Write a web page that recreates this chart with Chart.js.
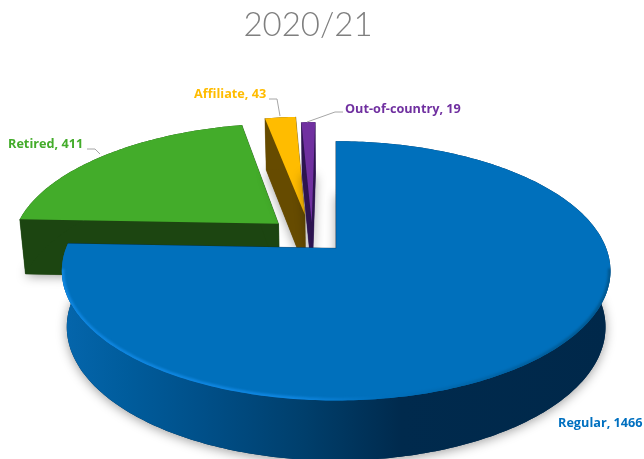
<!DOCTYPE html>
<html lang="en">
<head>
    <meta charset="UTF-8">
    <title>2020/21</title>
    <script src="https://cdn.jsdelivr.net/npm/chart.js"></script>
    <style>
        html, body { margin: 0; padding: 0; background: #fff; }
        #wrap { width: 644px; height: 459px; overflow: hidden; }
    </style>
</head>
<body>
    <div id="wrap"><canvas id="pie" width="644" height="459"></canvas></div>

    <script>
        // Data
        const categories = ['Regular', 'Retired', 'Affiliate', 'Out-of-country'];
        const memberCounts = [1466, 411, 43, 19];
        const chartTitle = '2020/21';

        // Slice styling
        const topColors = ['#0070BC', '#43AC2A', '#FFBC00', '#7030A0'];
        const wallColors = ['#00284A', '#1C4511', '#664B00', '#2D1450'];
        const labelColors = ['#0070C0', '#43AC2A', '#FFBC00', '#7030A0'];
        const sliceOffsets = [86, 86, 102, 63];
        const sideNudge = [0, -0.006, 0.004, 0.012];
        const drawOrder = [1, 2, 3, 0];

        // Label text start + baseline, and the leader line going to the slice
        const labelSpots = [
            { x: 558, y: 427, leader: null },
            { x: 8, y: 148, leader: [[87, 149], [95, 149], [100, 154]] },
            { x: 194, y: 98, leader: [[269, 99], [277, 99], [280, 116]] },
            { x: 345, y: 113, leader: [[343, 112], [335, 112], [307, 122]] }
        ];

        // Tilted view of the pie plane: u, v are in pie radii
        const view = { x0: 335.5, y0: 248, A: 125.6, B: 270, p: 0.174, du: -0.10, dv: -0.104 };
        const depth = { dy: 55.5, kx: 0.982, ky: 1.03 };

        function project(u, v, low) {
            const s = 1 / (1 - view.p * v);
            const x = view.B * u * s * (low ? depth.kx : 1);
            const y = view.A * v * s * (low ? depth.ky : 1) + (low ? depth.dy : 0);
            return [view.x0 + x, view.y0 + y];
        }

        // Turns one arc element from the chart into points on the tilted plane
        function arcGeometry(arc, i) {
            const mid = (arc.startAngle + arc.endAngle) / 2;
            const shift = (arc.options.offset || 0) / 4 / arc.outerRadius;
            const cu = view.du + Math.cos(mid) * shift + sideNudge[i];
            const cv = view.dv + Math.sin(mid) * shift;
            const steps = Math.max(4, Math.ceil((arc.endAngle - arc.startAngle) * 60));
            const rim = [];
            for (let k = 0; k <= steps; k++) {
                const a = arc.startAngle + (arc.endAngle - arc.startAngle) * k / steps;
                rim.push([cu + Math.cos(a), cv + Math.sin(a)]);
            }
            return { apex: [cu, cv], rim };
        }

        function tracePoly(ctx, pts) {
            ctx.beginPath();
            pts.forEach((p, i) => i ? ctx.lineTo(p[0], p[1]) : ctx.moveTo(p[0], p[1]));
            ctx.closePath();
        }

        function blueWallGradient(ctx) {
            const g = ctx.createLinearGradient(62, 0, 610, 0);
            g.addColorStop(0, '#0566AC');
            g.addColorStop(0.12, '#005C9C');
            g.addColorStop(0.26, '#004F88');
            g.addColorStop(0.44, '#003F6C');
            g.addColorStop(0.62, '#002A4D');
            g.addColorStop(1, '#00284A');
            return g;
        }

        function blueRimGradient(ctx) {
            const g = ctx.createLinearGradient(62, 0, 610, 0);
            g.addColorStop(0, '#0F86E0');
            g.addColorStop(0.42, '#0F86E0');
            g.addColorStop(0.58, '#0070BC');
            g.addColorStop(1, '#00578F');
            return g;
        }

        function drawSlice(ctx, arc, i) {
            const g = arcGeometry(arc, i);
            const top = g.rim.map(p => project(p[0], p[1], false));
            const low = g.rim.map(p => project(p[0], p[1], true));
            const apexTop = project(g.apex[0], g.apex[1], false);
            const apexLow = project(g.apex[0], g.apex[1], true);
            const wall = i === 0 ? blueWallGradient(ctx) : wallColors[i];

            // soft shadow under the base
            ctx.save();
            ctx.shadowColor = 'rgba(0,0,0,0.38)';
            ctx.shadowBlur = 11;
            ctx.shadowOffsetY = 2;
            ctx.fillStyle = wallColors[i];
            tracePoly(ctx, [apexLow, ...low]);
            ctx.fill();
            ctx.restore();

            // side walls: both cut faces, then the outer curve
            ctx.fillStyle = wallColors[i];
            ctx.strokeStyle = wallColors[i];
            ctx.lineWidth = 0.5;
            [[apexTop, top[0], low[0], apexLow],
             [apexTop, top[top.length - 1], low[low.length - 1], apexLow]].forEach(q => {
                tracePoly(ctx, q);
                ctx.fill();
                ctx.stroke();
            });
            ctx.fillStyle = wall;
            tracePoly(ctx, [...top, ...low.slice().reverse()]);
            ctx.fill();

            // top face
            ctx.fillStyle = topColors[i];
            tracePoly(ctx, [apexTop, ...top]);
            ctx.fill();

            if (i === 0) {
                // bevel along the near edge of the big slice
                const near = top.filter(p => p[1] > 268);
                ctx.save();
                tracePoly(ctx, [apexTop, ...top]);
                ctx.clip();
                ctx.strokeStyle = blueRimGradient(ctx);
                ctx.lineWidth = 5;
                ctx.filter = 'blur(0.8px)';
                ctx.beginPath();
                near.forEach((p, k) => k ? ctx.lineTo(p[0], p[1]) : ctx.moveTo(p[0], p[1]));
                ctx.stroke();
                ctx.restore();
            }
        }

        const tiltedPie = {
            id: 'tiltedPie',
            beforeDatasetDraw(chart) {
                const arcs = chart.getDatasetMeta(0).data;
                drawOrder.forEach(i => drawSlice(chart.ctx, arcs[i], i));
                return false;
            },
            afterDraw(chart) {
                const ctx = chart.ctx;
                ctx.save();
                ctx.textBaseline = 'alphabetic';
                ctx.textAlign = 'left';
                ctx.font = 'bold 12.7px "Open Sans"';
                categories.forEach((name, i) => {
                    const spot = labelSpots[i];
                    ctx.fillStyle = labelColors[i];
                    ctx.fillText(name + ', ' + memberCounts[i], spot.x, spot.y);
                    if (spot.leader) {
                        ctx.strokeStyle = '#A6A6A6';
                        ctx.lineWidth = 1;
                        ctx.beginPath();
                        spot.leader.forEach((p, k) => k ? ctx.lineTo(p[0], p[1]) : ctx.moveTo(p[0], p[1]));
                        ctx.stroke();
                    }
                });
                ctx.restore();
            }
        };

        new Chart(document.getElementById('pie'), {
            type: 'pie',
            data: {
                labels: categories,
                datasets: [{
                    data: memberCounts,
                    backgroundColor: topColors,
                    offset: sliceOffsets,
                    borderWidth: 0
                }]
            },
            options: {
                responsive: false,
                animation: false,
                layout: { padding: { right: 28 } },
                plugins: {
                    legend: { display: false },
                    tooltip: { enabled: false },
                    title: {
                        display: true,
                        text: chartTitle,
                        color: '#7F7F7F',
                        font: { family: 'Lato', size: 33, weight: '300' },
                        padding: { top: 6, bottom: 20 }
                    }
                }
            },
            plugins: [tiltedPie]
        });
    </script>
</body>
</html>
